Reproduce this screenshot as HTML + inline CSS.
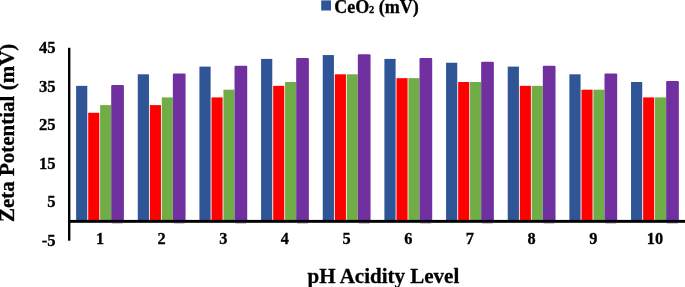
<!DOCTYPE html>
<html><head><meta charset="utf-8"><style>
html,body{margin:0;padding:0;background:#fff;}
body{width:685px;height:287px;overflow:hidden;position:relative;}
svg{position:absolute;left:0;top:0;will-change:transform;}
text{font-family:"Liberation Serif",serif;font-weight:bold;fill:#000;stroke:#000;stroke-width:0.3px;}
</style></head><body>
<svg width="685" height="287" viewBox="0 0 685 287">
<g>
<rect x="76.10" y="85.85" width="11.20" height="135.65" fill="#2F5597"/>
<rect x="88.20" y="112.80" width="11.10" height="108.70" fill="#FF0000"/>
<rect x="100.10" y="105.10" width="11.05" height="116.40" fill="#70AD47"/>
<rect x="111.20" y="84.95" width="12.70" height="136.55" fill="#7030A0" rx="1.1"/>
<rect x="112.10" y="222.8" width="10.8" height="1.2" fill="#7030A0" fill-opacity="0.3"/>
<rect x="137.76" y="74.30" width="11.20" height="147.20" fill="#2F5597"/>
<rect x="149.86" y="105.10" width="11.10" height="116.40" fill="#FF0000"/>
<rect x="161.76" y="97.40" width="11.05" height="124.10" fill="#70AD47"/>
<rect x="172.86" y="73.40" width="12.70" height="148.10" fill="#7030A0" rx="1.1"/>
<rect x="173.76" y="222.8" width="10.8" height="1.2" fill="#7030A0" fill-opacity="0.3"/>
<rect x="199.42" y="66.60" width="11.20" height="154.90" fill="#2F5597"/>
<rect x="211.52" y="97.40" width="11.10" height="124.10" fill="#FF0000"/>
<rect x="223.42" y="89.70" width="11.05" height="131.80" fill="#70AD47"/>
<rect x="234.52" y="65.70" width="12.70" height="155.80" fill="#7030A0" rx="1.1"/>
<rect x="235.42" y="222.8" width="10.8" height="1.2" fill="#7030A0" fill-opacity="0.3"/>
<rect x="261.08" y="58.90" width="11.20" height="162.60" fill="#2F5597"/>
<rect x="273.18" y="85.85" width="11.10" height="135.65" fill="#FF0000"/>
<rect x="285.08" y="82.00" width="11.05" height="139.50" fill="#70AD47"/>
<rect x="296.18" y="58.00" width="12.70" height="163.50" fill="#7030A0" rx="1.1"/>
<rect x="297.08" y="222.8" width="10.8" height="1.2" fill="#7030A0" fill-opacity="0.3"/>
<rect x="322.74" y="55.05" width="11.20" height="166.45" fill="#2F5597"/>
<rect x="334.84" y="74.30" width="11.10" height="147.20" fill="#FF0000"/>
<rect x="346.74" y="74.30" width="11.05" height="147.20" fill="#70AD47"/>
<rect x="357.84" y="54.15" width="12.70" height="167.35" fill="#7030A0" rx="1.1"/>
<rect x="358.74" y="222.8" width="10.8" height="1.2" fill="#7030A0" fill-opacity="0.3"/>
<rect x="384.40" y="58.90" width="11.20" height="162.60" fill="#2F5597"/>
<rect x="396.50" y="78.15" width="11.10" height="143.35" fill="#FF0000"/>
<rect x="408.40" y="78.15" width="11.05" height="143.35" fill="#70AD47"/>
<rect x="419.50" y="58.00" width="12.70" height="163.50" fill="#7030A0" rx="1.1"/>
<rect x="420.40" y="222.8" width="10.8" height="1.2" fill="#7030A0" fill-opacity="0.3"/>
<rect x="446.06" y="62.75" width="11.20" height="158.75" fill="#2F5597"/>
<rect x="458.16" y="82.00" width="11.10" height="139.50" fill="#FF0000"/>
<rect x="470.06" y="82.00" width="11.05" height="139.50" fill="#70AD47"/>
<rect x="481.16" y="61.85" width="12.70" height="159.65" fill="#7030A0" rx="1.1"/>
<rect x="482.06" y="222.8" width="10.8" height="1.2" fill="#7030A0" fill-opacity="0.3"/>
<rect x="507.72" y="66.60" width="11.20" height="154.90" fill="#2F5597"/>
<rect x="519.82" y="85.85" width="11.10" height="135.65" fill="#FF0000"/>
<rect x="531.72" y="85.85" width="11.05" height="135.65" fill="#70AD47"/>
<rect x="542.82" y="65.70" width="12.70" height="155.80" fill="#7030A0" rx="1.1"/>
<rect x="543.72" y="222.8" width="10.8" height="1.2" fill="#7030A0" fill-opacity="0.3"/>
<rect x="569.38" y="74.30" width="11.20" height="147.20" fill="#2F5597"/>
<rect x="581.48" y="89.70" width="11.10" height="131.80" fill="#FF0000"/>
<rect x="593.38" y="89.70" width="11.05" height="131.80" fill="#70AD47"/>
<rect x="604.48" y="73.40" width="12.70" height="148.10" fill="#7030A0" rx="1.1"/>
<rect x="605.38" y="222.8" width="10.8" height="1.2" fill="#7030A0" fill-opacity="0.3"/>
<rect x="631.04" y="82.00" width="11.20" height="139.50" fill="#2F5597"/>
<rect x="643.14" y="97.40" width="11.10" height="124.10" fill="#FF0000"/>
<rect x="655.04" y="97.40" width="11.05" height="124.10" fill="#70AD47"/>
<rect x="666.14" y="81.10" width="12.70" height="140.40" fill="#7030A0" rx="1.1"/>
<rect x="667.04" y="222.8" width="10.8" height="1.2" fill="#7030A0" fill-opacity="0.3"/>
</g>
<rect x="68" y="47.8" width="2.4" height="192.9" fill="#000"/>
<rect x="68" y="219.9" width="617" height="2.9" fill="#000"/>
<g font-size="16.6">
<text x="55.6" y="53.00" text-anchor="end">45</text>
<text x="55.6" y="91.50" text-anchor="end">35</text>
<text x="55.6" y="130.00" text-anchor="end">25</text>
<text x="55.6" y="168.50" text-anchor="end">15</text>
<text x="55.6" y="207.00" text-anchor="end">5</text>
<text x="55.6" y="245.50" text-anchor="end">-5</text>
</g>
<g font-size="16.3">
<text x="99.95" y="244" text-anchor="middle">1</text>
<text x="161.61" y="244" text-anchor="middle">2</text>
<text x="223.27" y="244" text-anchor="middle">3</text>
<text x="284.93" y="244" text-anchor="middle">4</text>
<text x="346.59" y="244" text-anchor="middle">5</text>
<text x="408.25" y="244" text-anchor="middle">6</text>
<text x="469.91" y="244" text-anchor="middle">7</text>
<text x="531.57" y="244" text-anchor="middle">8</text>
<text x="593.23" y="244" text-anchor="middle">9</text>
<text x="654.89" y="244" text-anchor="middle">10</text>
</g>
<rect x="321.2" y="0.4" width="9.8" height="10.1" fill="#2F5597"/>
<text x="334.32" y="12.7" font-size="18">CeO</text>
<text x="368.96" y="12.6" font-size="10.5">2</text>
<text x="378.81" y="12.5" font-size="18">(mV)</text>
<text x="383.4" y="282.7" font-size="21" text-anchor="middle">pH Acidity Level</text>
<text transform="translate(14.1,132.9) rotate(-90)" font-size="21" text-anchor="middle">Zeta Potential (mV)</text>
</svg>
</body></html>
